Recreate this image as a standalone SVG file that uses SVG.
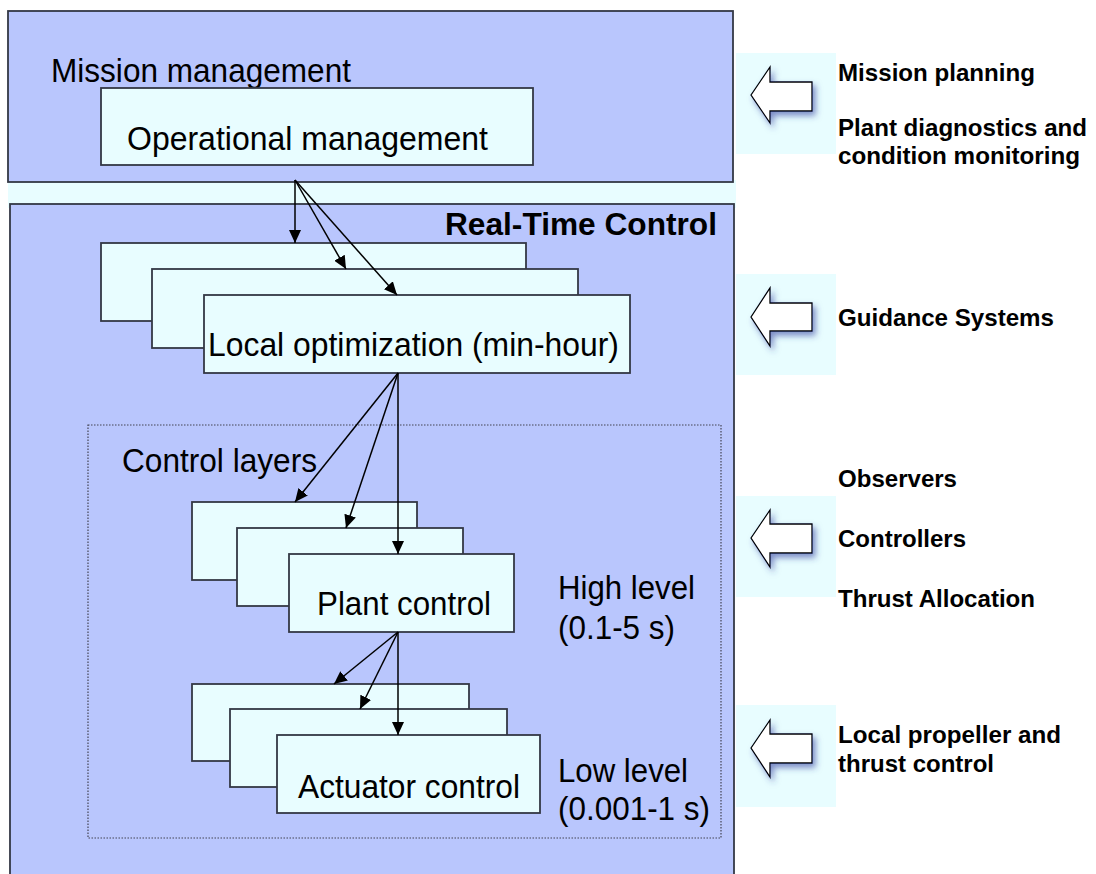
<svg xmlns="http://www.w3.org/2000/svg" width="1096" height="874" viewBox="0 0 1096 874">
<defs>
<style>
.panel{fill:#b9c6fd;stroke:#333845;stroke-width:1.8}
.box{fill:#e8fdff;stroke:#333845;stroke-width:1.8}
.t{font-family:"Liberation Sans",Arial,sans-serif;font-size:33px;fill:#000}
.b{font-family:"Liberation Sans",Arial,sans-serif;font-size:24px;font-weight:bold;fill:#000}
.rt{font-family:"Liberation Sans",Arial,sans-serif;font-size:32px;font-weight:bold;fill:#000}
.c{stroke:#000;stroke-width:1.5;fill:none;marker-end:url(#ah)}
.bg{fill:#e8fdff}
.barrow{fill:#fff;stroke:#000;stroke-width:1.3;filter:url(#sh)}
</style>
<marker id="ah" viewBox="0 0 13 12" refX="13" refY="6" markerWidth="13" markerHeight="12" markerUnits="userSpaceOnUse" orient="auto">
<path d="M0,0 L13,6 L0,12 z" fill="#000"/>
</marker>
<filter id="sh" x="-40%" y="-40%" width="180%" height="180%">
<feDropShadow dx="3" dy="4" stdDeviation="3" flood-color="#3040a0" flood-opacity="0.6"/>
</filter>
</defs>
<rect width="1096" height="874" fill="#fff"/>
<rect class="bg" x="8" y="180" width="728" height="28"/>
<g id="mission-management">
<rect class="panel" x="8" y="11" width="725" height="171"/>
<text class="t" x="51" y="82" textLength="300" lengthAdjust="spacingAndGlyphs">Mission management</text>
</g>
<g id="operational-management">
<rect class="box" x="101" y="88" width="432" height="77"/>
<text class="t" x="127" y="150" textLength="361" lengthAdjust="spacingAndGlyphs">Operational management</text>
</g>
<g id="real-time-control">
<rect class="panel" x="10" y="204" width="724" height="680"/>
<text class="rt" x="445" y="235" textLength="272" lengthAdjust="spacingAndGlyphs">Real-Time Control</text>
</g>
<g id="local-optimization">
<rect class="box" x="101" y="243" width="425" height="78"/>
<rect class="box" x="152" y="269" width="426" height="79"/>
<rect class="box" x="204" y="295" width="426" height="78"/>
<text class="t" x="208" y="356" textLength="411" lengthAdjust="spacingAndGlyphs">Local optimization (min-hour)</text>
</g>
<g id="control-layers">
<rect x="88" y="425" width="633" height="413" fill="none" stroke="#445" stroke-width="1.2" stroke-dasharray="1.5,1.5"/>
<text class="t" x="122" y="472" textLength="195" lengthAdjust="spacingAndGlyphs">Control layers</text>
</g>
<g id="plant-control">
<rect class="box" x="192" y="502" width="225" height="78"/>
<rect class="box" x="237" y="528" width="226" height="78"/>
<rect class="box" x="289" y="554" width="225" height="78"/>
<text class="t" x="317" y="615" textLength="174" lengthAdjust="spacingAndGlyphs">Plant control</text>
</g>
<g id="high-level">
<text class="t" x="558" y="599" textLength="137" lengthAdjust="spacingAndGlyphs">High level</text>
<text class="t" x="558" y="639" textLength="117" lengthAdjust="spacingAndGlyphs">(0.1-5 s)</text>
</g>
<g id="actuator-control">
<rect class="box" x="192" y="684" width="277" height="77"/>
<rect class="box" x="230" y="709" width="277" height="78"/>
<rect class="box" x="277" y="735" width="263" height="78"/>
<text class="t" x="298" y="798" textLength="222" lengthAdjust="spacingAndGlyphs">Actuator control</text>
</g>
<g id="low-level">
<text class="t" x="558" y="782" textLength="130" lengthAdjust="spacingAndGlyphs">Low level</text>
<text class="t" x="558" y="820" textLength="152" lengthAdjust="spacingAndGlyphs">(0.001-1 s)</text>
</g>
<g id="connectors">
<line class="c" x1="295" y1="180" x2="295" y2="243"/>
<line class="c" x1="295" y1="180" x2="346" y2="269"/>
<line class="c" x1="295" y1="180" x2="397" y2="295"/>
<line class="c" x1="398" y1="373" x2="295" y2="502"/>
<line class="c" x1="398" y1="373" x2="346" y2="528"/>
<line class="c" x1="398" y1="373" x2="398" y2="554"/>
<line class="c" x1="398" y1="632" x2="334" y2="684"/>
<line class="c" x1="398" y1="632" x2="360" y2="709"/>
<line class="c" x1="398" y1="632" x2="398" y2="735"/>
</g>
<g id="side-mission">
<rect class="bg" x="736" y="53" width="100" height="101"/>
<path class="barrow" d="M751,95 L770,67 L770,82 L812,82 L812,111 L770,111 L770,123 Z"/>
<text class="b" x="838" y="81" textLength="197" lengthAdjust="spacingAndGlyphs">Mission planning</text>
<text class="b" x="838" y="136" textLength="249" lengthAdjust="spacingAndGlyphs">Plant diagnostics and</text>
<text class="b" x="838" y="164" textLength="242" lengthAdjust="spacingAndGlyphs">condition monitoring</text>
</g>
<g id="side-guidance">
<rect class="bg" x="736" y="274" width="100" height="101"/>
<path class="barrow" d="M751,317 L770,288 L770,303 L812,303 L812,331 L770,331 L770,346 Z"/>
<text class="b" x="838" y="326" textLength="216" lengthAdjust="spacingAndGlyphs">Guidance Systems</text>
</g>
<g id="side-control">
<rect class="bg" x="736" y="496" width="100" height="101"/>
<path class="barrow" d="M751,538 L770,510 L770,524 L812,524 L812,553 L770,553 L770,567 Z"/>
<text class="b" x="838" y="487" textLength="119" lengthAdjust="spacingAndGlyphs">Observers</text>
<text class="b" x="838" y="547" textLength="128" lengthAdjust="spacingAndGlyphs">Controllers</text>
<text class="b" x="838" y="607" textLength="197" lengthAdjust="spacingAndGlyphs">Thrust Allocation</text>
</g>
<g id="side-actuator">
<rect class="bg" x="736" y="705" width="100" height="102"/>
<path class="barrow" d="M751,748 L770,720 L770,734 L812,734 L812,763 L770,763 L770,777 Z"/>
<text class="b" x="838" y="743" textLength="223" lengthAdjust="spacingAndGlyphs">Local propeller and</text>
<text class="b" x="838" y="772" textLength="156" lengthAdjust="spacingAndGlyphs">thrust control</text>
</g>
</svg>
